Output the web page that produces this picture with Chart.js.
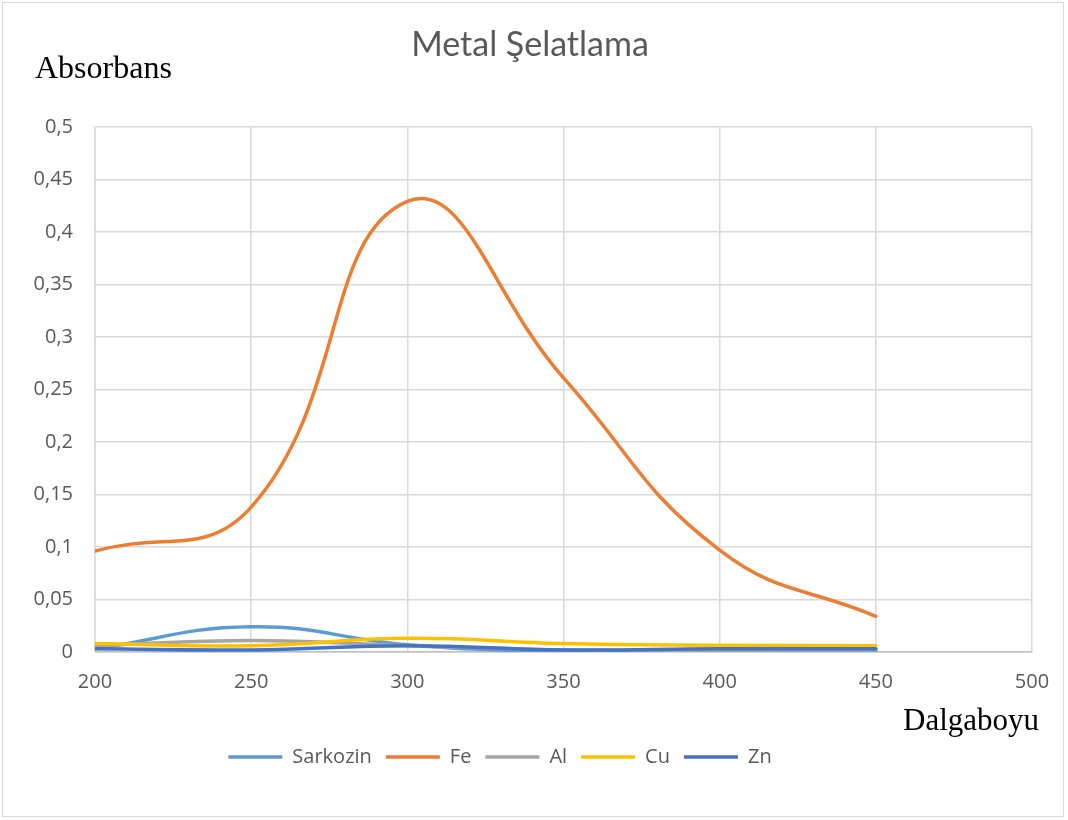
<!DOCTYPE html>
<html>
<head>
<meta charset="utf-8">
<script src="https://cdn.jsdelivr.net/npm/chart.js@4.4.1/dist/chart.umd.min.js"></script>
<style>
  html, body { margin: 0; padding: 0; background: #fff; }
  #wrap { position: relative; width: 1068px; height: 820px; }
  #frame { position: absolute; left: 2px; top: 2px; width: 1062px; height: 815px; border: 1px solid #D9D9D9; box-sizing: border-box; pointer-events: none; }
  .lbl { position: absolute; font-family: "Liberation Serif", "DejaVu Serif", serif; font-size: 32px; color: #000; white-space: nowrap; line-height: 1; }
</style>
</head>
<body>
<div id="wrap">
  <canvas id="chart" width="1068" height="820"></canvas>
  <div id="frame"></div>
  <div class="lbl" style="left:35px; top:51px;">Absorbans</div>
  <div class="lbl" style="left:903px; top:704px; font-size:31px;">Dalgaboyu</div>
</div>
<script>
  // dalga boyu (nm)
  var wavelengths = [200, 250, 300, 350, 400, 450];
  var sarkozin = [0.003, 0.024, 0.007, 0.0005, 0.001, 0.001];
  var fe = [0.096, 0.138, 0.429, 0.261, 0.097, 0.034];
  var al = [0.006, 0.011, 0.006, 0.002, 0.002, 0.002];
  var cu = [0.008, 0.006, 0.013, 0.008, 0.0065, 0.006];
  var zn = [0.003, 0.002, 0.006, 0.002, 0.003, 0.003];

  var seriesNames = ['Sarkozin', 'Fe', 'Al', 'Cu', 'Zn'];
  var seriesColors = ['#5B9BD5', '#ED7D31', '#A5A5A5', '#FFC000', '#4472C4'];
  var seriesValues = [sarkozin, fe, al, cu, zn];

  function toPoints(values) {
    return wavelengths.map(function(x, i) { return { x: x, y: values[i] }; });
  }

  var datasets = seriesNames.map(function(name, i) {
    return {
      label: name,
      data: toPoints(seriesValues[i]),
      borderColor: seriesColors[i],
      backgroundColor: seriesColors[i],
      borderWidth: 3.5,
      borderCapStyle: 'round',
      pointRadius: 0,
      tension: 0.45,
      fill: false,
      order: seriesNames.length - i   // Zn ustte cizilsin
    };
  });

  var tickFont = { family: '"Open Sans", "Noto Sans", sans-serif', size: 20 };

  // lejant excel'deki gibi biraz sola kaysin
  var legendShift = {
    id: 'legendShift',
    afterLayout: function(chart) {
      chart.legend.left -= 30;
      chart.legend.right -= 30;
    }
  };

  const chart = new Chart(document.getElementById('chart'), {
    type: 'line',
    data: { datasets: datasets },
    plugins: [legendShift],
    options: {
      responsive: false,
      animation: false,
      layout: { padding: { left: 28, right: 36, top: 0, bottom: 43 } },
      plugins: {
        title: {
          display: true,
          text: 'Metal Şelatlama',
          color: '#595959',
          font: { family: 'Lato, "Open Sans", sans-serif', size: 34, weight: 'normal' },
          padding: { top: 25, bottom: 61 }
        },
        legend: {
          position: 'bottom',
          labels: {
            usePointStyle: true,
            pointStyle: 'line',
            pointStyleWidth: 54,
            color: '#595959',
            padding: 14,
            font: { family: '"Open Sans", "Noto Sans", sans-serif', size: 20 },
            sort: function(a, b) { return a.datasetIndex - b.datasetIndex; }
          }
        },
        tooltip: { enabled: false }
      },
      scales: {
        x: {
          type: 'linear',
          min: 200,
          max: 500,
          afterFit: function(scale) { scale.height += 21; },
          ticks: { stepSize: 50, color: '#595959', font: tickFont, padding: 18 },
          grid: { color: '#D9D9D9', lineWidth: 1.5, drawTicks: false },
          border: { color: '#BFBFBF', width: 1.5 }
        },
        y: {
          min: 0,
          max: 0.5,
          afterFit: function(scale) { scale.width = 67; },
          ticks: {
            stepSize: 0.05,
            color: '#595959',
            font: tickFont,
            padding: 22,
            callback: function(v) {
              return String(Math.round(v * 100) / 100).replace('.', ',');
            }
          },
          grid: { color: '#D9D9D9', lineWidth: 1.5, drawTicks: false },
          border: { color: '#D9D9D9', width: 1.5 }
        }
      }
    }
  });
</script>
</body>
</html>
